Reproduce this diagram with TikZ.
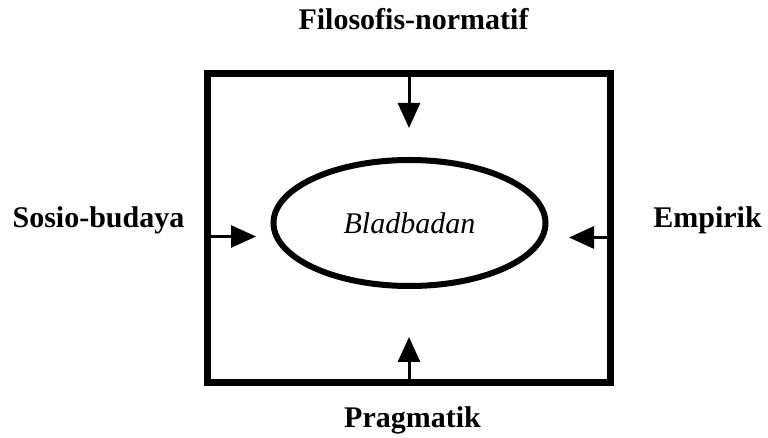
\documentclass[tikz,border=0pt]{standalone}
\usepackage{fontspec}
\setmainfont{Liberation Serif}
\usetikzlibrary{arrows.meta,shapes.geometric}

\begin{document}
\begin{tikzpicture}[x=0.5pt, y=-0.5pt,
    sidetext/.style={font=\fontsize{15}{18}\selectfont\bfseries, anchor=base},
    arr/.style={line width=1.5pt, -{Triangle[length=12.5pt, width=11pt]}}]
    \useasboundingbox (0, 0) rectangle (768, 438);

    \node[draw, line width=3.5pt, minimum width=201.5pt, minimum height=154.5pt, inner sep=0pt] (frame) at (409, 228.5) {};
    \node[draw, ellipse, line width=3pt, minimum width=136pt, minimum height=63pt, inner sep=0pt, font=\fontsize{15}{18}\selectfont\itshape] (blad) at (409.5, 223) {Bladbadan};

    \node[sidetext] (filo) at (413.5, 30) {Filosofis-normatif};
    \node[sidetext] (sosio) at (98.5, 228) {Sosio-budaya};
    \node[sidetext] (empi) at (707.5, 228) {Empirik};
    \node[sidetext] (prag) at (412.5, 428) {Pragmatik};

    \coordinate (tipT) at (409, 128);
    \coordinate (tipB) at (409, 337);
    \coordinate (tipL) at (256, 236.5);
    \coordinate (tipR) at (569, 237.5);

    \draw[arr] (frame.north) -- (tipT);
    \draw[arr] (frame.south) -- (tipB);
    \draw[arr] (frame.west |- tipL) -- (tipL);
    \draw[arr] (frame.east |- tipR) -- (tipR);
\end{tikzpicture}
\end{document}
